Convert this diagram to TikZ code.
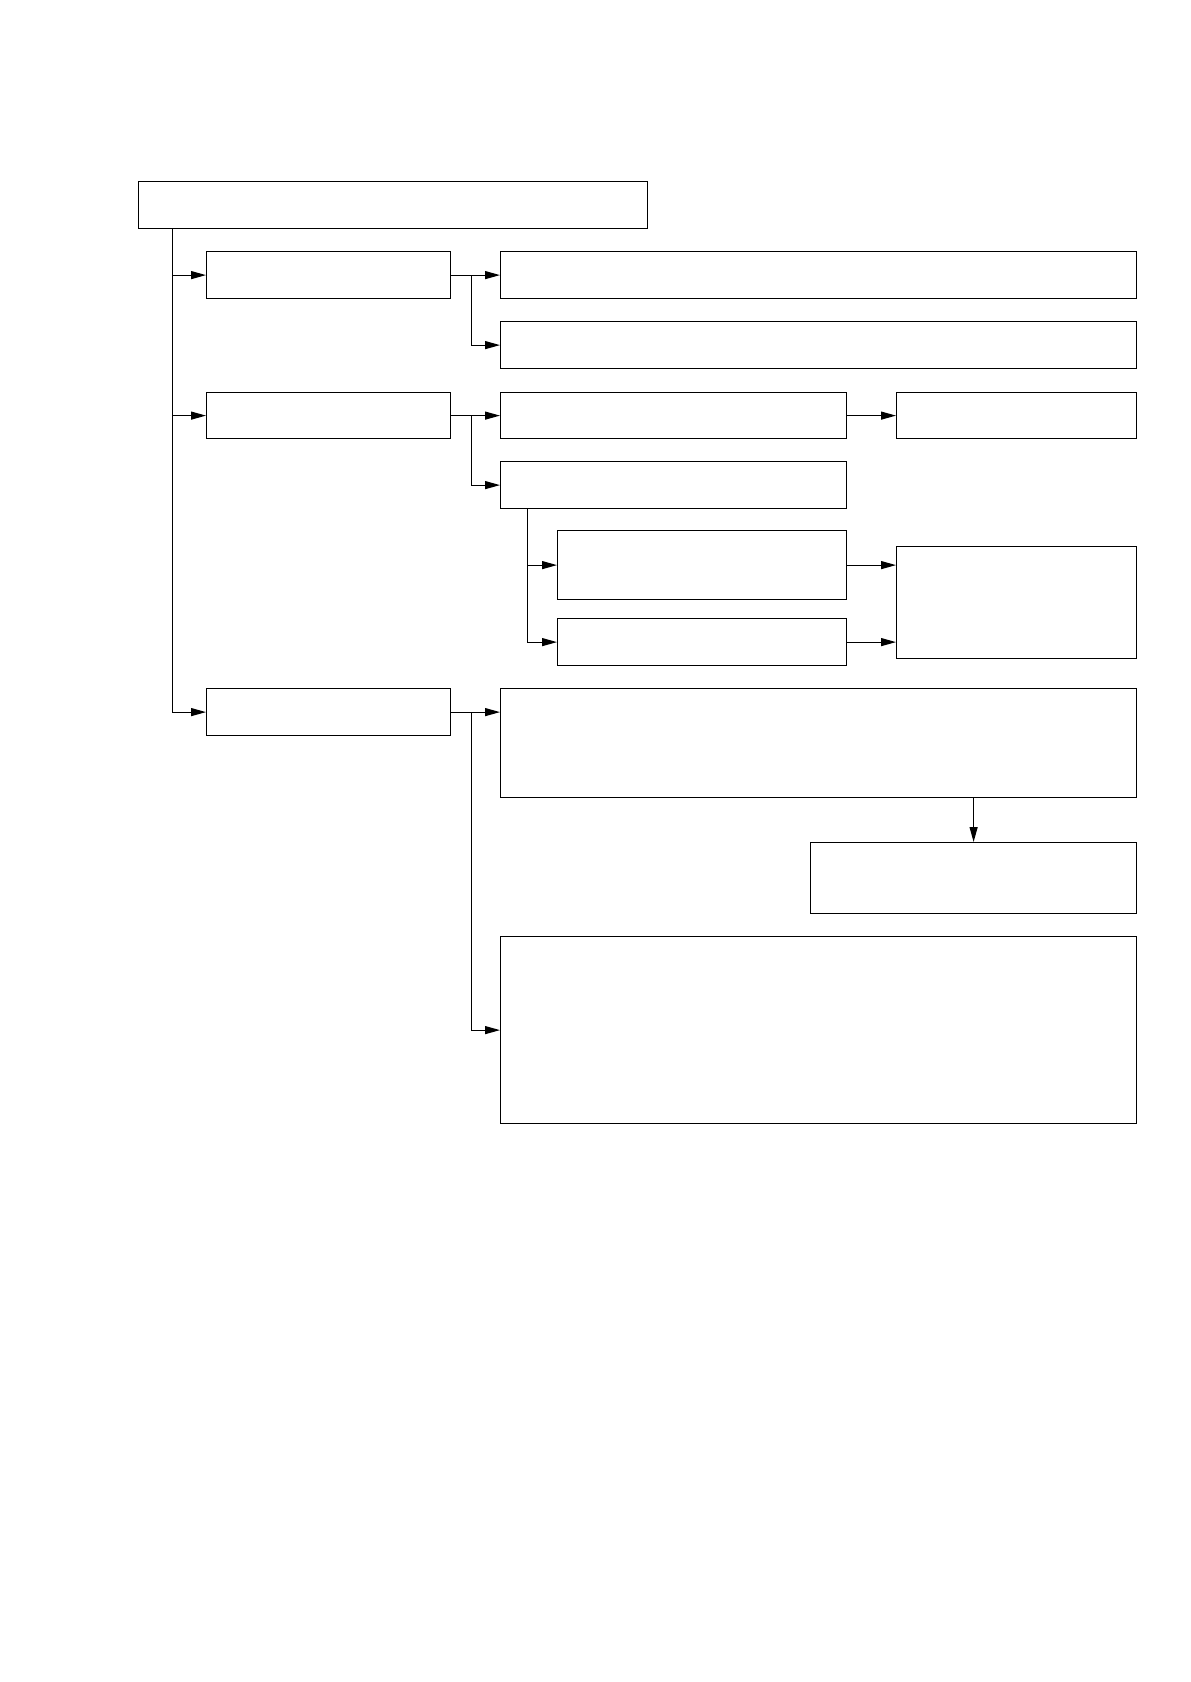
\documentclass[tikz,border=0pt]{standalone}
\usepackage{tikz}
\usetikzlibrary{arrows.meta, calc}

\begin{document}
\begin{tikzpicture}[x=1pt, y=1pt, line width=0.6pt,
	box/.style={draw, rectangle, anchor=north west, inner sep=0pt},
	link/.style={-{Triangle[length=7.5pt, width=4pt]}}]
	\useasboundingbox (0,0) rectangle (595,-841);
	
	% top level
	\node[box, minimum width=254.5pt, minimum height=23.5pt] (root) at (69,-90.5) {};
	
	% second level
	\node[box, minimum width=122pt, minimum height=23.5pt] (A) at (103,-125.5) {};
	\node[box, minimum width=122pt, minimum height=23pt] (B) at (103,-196) {};
	\node[box, minimum width=122pt, minimum height=23.5pt] (C) at (103,-344) {};
	
	% branches of A
	\node[box, minimum width=318pt, minimum height=23.5pt] (A1) at (250,-125.5) {};
	\node[box, minimum width=318pt, minimum height=23.5pt] (A2) at (250,-160.5) {};
	
	% branches of B
	\node[box, minimum width=173pt, minimum height=23pt] (B1) at (250,-196) {};
	\node[box, minimum width=120pt, minimum height=23pt] (B1r) at (448,-196) {};
	\node[box, minimum width=173pt, minimum height=23.5pt] (B2) at (250,-230.5) {};
	\node[box, minimum width=144.5pt, minimum height=34.5pt] (B2a) at (278.5,-265) {};
	\node[box, minimum width=144.5pt, minimum height=23.5pt] (B2b) at (278.5,-309) {};
	\node[box, minimum width=120pt, minimum height=56pt] (B2r) at (448,-273) {};
	
	% branches of C
	\node[box, minimum width=318pt, minimum height=54.5pt] (C1) at (250,-344) {};
	\node[box, minimum width=163pt, minimum height=35.5pt] (C2) at (405,-421) {};
	\node[box, minimum width=318pt, minimum height=93.5pt] (C3) at (250,-468) {};
	
	% connectors
	\coordinate (trunk) at ($(root.south west)+(17.25,0)$);
	\draw[link] (trunk) |- (C.west);
	\draw[link] (trunk |- A.west) -- (A.west);
	\draw[link] (trunk |- B.west) -- (B.west);
	
	\draw[link] (A.east) -- (A1.west);
	\draw[link] ($(A.east)+(10.25,0)$) |- (A2.west);
	
	\draw[link] (B.east) -- (B1.west);
	\draw[link] ($(B.east)+(10.25,0)$) |- (B2.west);
	\draw[link] (B1.east) -- (B1r.west);
	\coordinate (drop) at ($(B2.south west)+(13.75,0)$);
	\draw[link] (drop) |- (B2b.west);
	\draw[link] (drop |- B2a.west) -- (B2a.west);
	\draw[link] (B2a.east) -- (B2a.east -| B2r.west);
	\draw[link] (B2b.east) -- (B2b.east -| B2r.west);
	
	\draw[link] (C.east) -- (C.east -| C1.west);
	\draw[link] ($(C.east)+(10.25,0)$) |- (C3.west);
	\draw[link] (C2.north |- C1.south) -- (C2.north);
	
\end{tikzpicture}
\end{document}
